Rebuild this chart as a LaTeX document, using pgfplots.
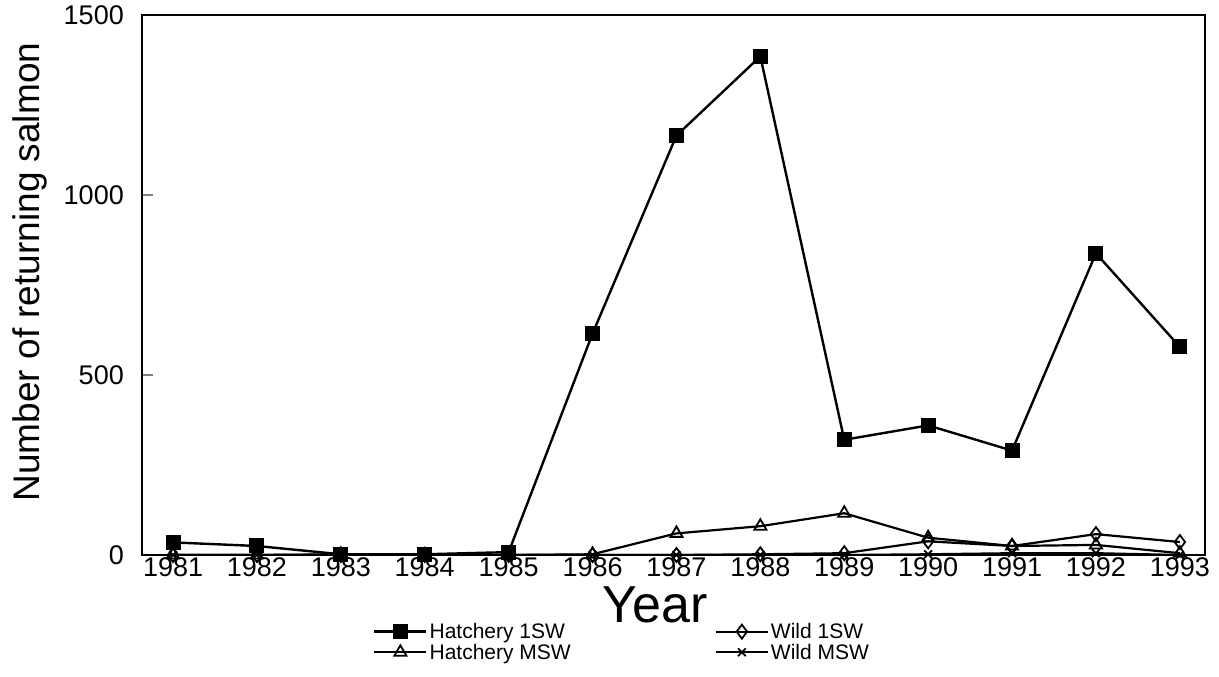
\documentclass[border=0pt]{standalone}
\usepackage{fontspec}
\setmainfont{Liberation Sans}
\usepackage{pgfplots}
\pgfplotsset{compat=1.18}
\begin{document}
\begin{tikzpicture}
\useasboundingbox (-142pt,-122pt) rectangle (1077pt,555pt);
\begin{axis}[
  at={(0pt,0pt)}, anchor=south west,
  scale only axis, width=1063pt, height=540pt,
  xmin=1980.63, xmax=1993.3, ymin=0, ymax=1500,
  xtick={1981,1982,1983,1984,1985,1986,1987,1988,1989,1990,1991,1992,1993},
  xticklabels={1981,1982,1983,1984,1985,1986,1987,1988,1989,1990,1991,1992,1993},
  ytick={0,500,1000,1500},
  /pgf/number format/assume math mode=true,
  /pgf/number format/1000 sep={},
  xticklabel style={font=\fontsize{27}{27}\selectfont, inner sep=0pt, yshift=-2pt},
  yticklabel style={font=\fontsize{27}{27}\selectfont, inner sep=0pt, xshift=-18pt},
  tick align=inside, ytick pos=left, xtick pos=bottom,
  major tick length=11pt,
  x tick style={draw=none},
  y tick style={line width=2.2pt},
  axis line style={line width=2.4pt},
  xlabel={Year},
  ylabel={Number of returning salmon},
  xlabel style={font=\fontsize{52}{52}\selectfont, at={(axis description cs:0.4826,-0.0926)}, anchor=center},
  ylabel style={font=\fontsize{37}{37}\selectfont, at={(axis description cs:-0.1054,0.524)}, anchor=center},
  legend columns=2,
  legend cell align=left,
  legend style={draw=none, fill=none, inner sep=0pt, at={(axis description cs:0.2173,-0.126)}, anchor=north west,
    font=\fontsize{21}{21}\selectfont, row sep=4pt, nodes={inner ysep=0pt},
    /tikz/every even column/.append style={column sep=142pt}},
  legend image code/.code={\draw[mark repeat=2,mark phase=2,#1] plot coordinates {(0pt,0pt) (26pt,0pt) (52pt,0pt)};},
]
\addplot[black, line width=2.4pt, mark=square*, mark size=7pt, mark options={solid, line width=1pt}] coordinates {
(1981,35) (1982,25) (1983,2) (1984,2) (1985,8) (1986,615) (1987,1165) (1988,1385) (1989,320) (1990,360) (1991,290) (1992,838) (1993,578)};
\addlegendentry{Hatchery 1SW}
\addplot[black, line width=2.2pt, mark=diamond, mark size=7pt, mark options={solid, fill=white, line width=1.8pt}] coordinates {
(1981,0) (1982,0) (1983,0) (1984,0) (1985,0) (1986,0) (1987,0) (1988,2) (1989,5) (1990,38) (1991,25) (1992,58) (1993,36)};
\addlegendentry{Wild 1SW}
\addplot[black, line width=2.2pt, mark=triangle, mark size=7pt, mark options={solid, fill=white, line width=1.8pt}] coordinates {
(1981,0) (1982,0) (1983,2) (1984,0) (1985,0) (1986,2) (1987,60) (1988,80) (1989,116) (1990,48) (1991,25) (1992,28) (1993,5)};
\addlegendentry{Hatchery MSW}
\addplot[black, line width=2.2pt, mark=x, mark size=5.5pt, mark options={solid, line width=1.8pt}] coordinates {
(1981,0) (1982,0) (1983,0) (1984,0) (1985,0) (1986,0) (1987,0) (1988,0) (1989,0) (1990,2) (1991,5) (1992,5) (1993,0)};
\addlegendentry{Wild MSW}
\end{axis}
\end{tikzpicture}
\end{document}
